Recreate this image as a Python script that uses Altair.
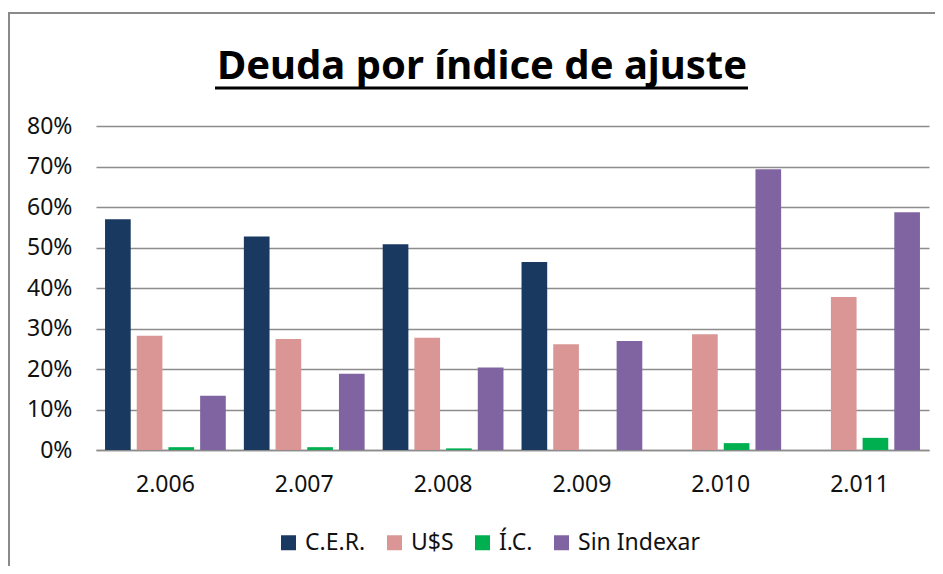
import altair as alt
import pandas as pd

years = ["2.006", "2.007", "2.008", "2.009", "2.010", "2.011"]
series = ["C.E.R.", "U$S", "Í.C.", "Sin Indexar"]
cer = [0.570, 0.527, 0.508, 0.464, 0.0, 0.0]
uss = [0.282, 0.274, 0.277, 0.261, 0.286, 0.378]
ic = [0.007, 0.007, 0.004, 0.0, 0.017, 0.030]
sin_indexar = [0.134, 0.188, 0.204, 0.269, 0.693, 0.587]
colors = ["#1A3960", "#D99694", "#00B050", "#8064A2"]

rows = []
for name, vals in zip(series, [cer, uss, ic, sin_indexar]):
    for y, v in zip(years, vals):
        rows.append({"anio": y, "serie": name, "valor": v})
df = pd.DataFrame(rows)

FONT = "Noto Sans"
W, H = 833, 324

bars = alt.Chart(df).mark_bar().encode(
    x=alt.X("anio:N", sort=years,
            scale=alt.Scale(paddingInner=0, paddingOuter=0),
            axis=alt.Axis(title=None, labelAngle=0, ticks=False, domain=True,
                          domainColor="#8c8c8c", domainWidth=1.5,
                          labelFontSize=23, labelFont=FONT, labelColor="#111",
                          labelPadding=23)),
    xOffset=alt.XOffset("serie:N", sort=series,
                        scale=alt.Scale(paddingInner=0.19, paddingOuter=0.285)),
    y=alt.Y("valor:Q",
            scale=alt.Scale(domain=[0, 0.8], nice=False),
            axis=alt.Axis(title=None, format=".0%", values=[0, 0.1, 0.2, 0.3, 0.4, 0.5, 0.6, 0.7, 0.8],
                          ticks=False, domain=False, grid=True,
                          gridColor="#8c8c8c", gridWidth=1.5,
                          labelFontSize=23, labelFont=FONT, labelColor="#111",
                          labelPadding=24)),
    color=alt.Color("serie:N", sort=series,
                    scale=alt.Scale(domain=series, range=colors),
                    legend=alt.Legend(title=None, orient="none", direction="horizontal",
                                      columns=4, legendX=181, legendY=405,
                                      symbolType="square", symbolSize=225,
                                      symbolStrokeWidth=0, labelOffset=5,
                                      columnPadding=17,
                                      labelFontSize=23, labelFont=FONT,
                                      labelColor="#111")),
)

one = pd.DataFrame({"t": ["Deuda por índice de ajuste"]})

title = alt.Chart(one).mark_text(
    font=FONT, fontSize=40, fontWeight="bold", color="#000",
    align="center", baseline="alphabetic"
).encode(x=alt.value(386), y=alt.value(-47), text="t:N")

underline = alt.Chart(one).mark_rule(color="#000", strokeWidth=3).encode(
    x=alt.value(119), x2=alt.value(652), y=alt.value(-38))

border = alt.Chart(one).mark_rect(filled=False, stroke="#8a8a8a", strokeWidth=2).encode(
    x=alt.value(-87), x2=alt.value(860), y=alt.value(-113), y2=alt.value(480))

chart = alt.layer(border, bars, title, underline).properties(
    width=W, height=H,
    autosize=alt.AutoSizeParams(type="none"),
    padding={"left": 88, "top": 118, "right": 6, "bottom": 116},
).configure_view(stroke=None)

chart.save("out.html", embed_options={"renderer": "svg", "actions": False})
